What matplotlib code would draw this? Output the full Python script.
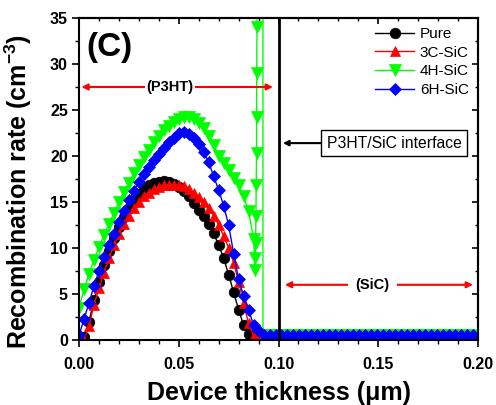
import numpy as np
import matplotlib
matplotlib.use("Agg")
import matplotlib.pyplot as plt

plt.rcParams['font.family'] = ['Liberation Sans', 'DejaVu Sans']
plt.rcParams['mathtext.fontset'] = 'custom'
plt.rcParams['mathtext.rm'] = 'Liberation Sans:bold'
plt.rcParams['mathtext.bf'] = 'Liberation Sans:bold'

# depth grid inside the P3HT layer (um)
depth = np.arange(0, 0.0899, 0.0025)

pure = [0.0, 0.3, 2.0, 4.3, 6.3, 8.1, 9.7, 11.1, 12.3, 13.4, 14.4, 15.2,
        15.9, 16.4, 16.8, 17.1, 17.2, 17.3, 17.2, 17.0, 16.6, 16.2, 15.6, 14.9,
        14.1, 13.5, 12.6, 11.6, 10.3, 8.9, 7.1, 5.2, 3.3, 1.6, 0.6, 0.3]
sic_3c = [0.0, 0.0, 1.5, 3.8, 5.6, 7.3, 8.9, 10.3, 11.5, 12.6, 13.5, 14.3,
          15.0, 15.6, 16.0, 16.4, 16.6, 16.8, 16.9, 16.9, 16.8, 16.7, 16.4, 16.0,
          15.5, 15.0, 14.3, 13.5, 12.5, 11.3, 10.0, 8.4, 6.3, 4.0, 1.8, 0.4]
sic_4h = [3.5, 5.5, 7.2, 8.7, 10.1, 11.4, 12.6, 13.8, 15.0, 16.1, 17.1, 18.1,
          19.0, 19.9, 20.7, 21.5, 22.2, 22.8, 23.3, 23.7, 24.0, 24.2, 24.2, 24.0,
          23.6, 23.0, 22.2, 21.2, 20.0, 19.2, 18.5, 17.6, 16.8, 15.6, 14.0, 11.0]
sic_6h = [0.5, 2.3, 4.0, 5.9, 7.5, 9.0, 10.3, 11.5, 12.8, 14.0, 15.2, 16.2,
          17.2, 18.0, 18.8, 19.6, 20.2, 20.9, 21.5, 22.0, 22.5, 22.6, 22.4, 22.0,
          21.3, 20.4, 19.3, 17.8, 16.3, 14.6, 12.5, 9.4, 6.6, 4.8, 3.3, 1.6]

# points just before the interface (4H-SiC blows up there)
tail_x_pure = [0.09]
tail_pure = [0.3]
tail_x_3c = [0.09]
tail_3c = [0.3]
tail_x_6h = [0.09]
tail_6h = [1.0]
tail_x_4h = [0.088, 0.0882, 0.0885, 0.0887, 0.0888, 0.089, 0.089, 0.0891,
             0.0892, 0.0893, 0.0922, 0.0922]
tail_4h = [8.9, 7.6, 10.5, 13.5, 16.8, 20.3, 24.2, 29.0, 34.0, 45.0, 45.0, 0.5]

# SiC layer
sic_x = np.arange(0.0925, 0.2001, 0.003)
sic_rate = 0.5

series = [
    ("Pure", pure, tail_x_pure, tail_pure, 'black', 'o', 7.6),
    ("3C-SiC", sic_3c, tail_x_3c, tail_3c, 'red', '^', 7.6),
    ("4H-SiC", sic_4h, tail_x_4h, tail_4h, '#00ff00', 'v', 8.6),
    ("6H-SiC", sic_6h, tail_x_6h, tail_6h, 'blue', 'D', 6.0),
]

fig = plt.figure(figsize=(4.96, 4.05), dpi=100)
ax = fig.add_axes([0.1593, 0.1605, 0.8044, 0.7951])

for name, vals, tx, ty, col, mk, ms in series:
    x = np.concatenate([depth, tx, sic_x])
    y = np.concatenate([vals, ty, np.full(len(sic_x), sic_rate)])
    ax.plot(x, y, color=col, marker=mk, markersize=ms, lw=1,
            markeredgewidth=0.5, label=name)

ax.set_xlim(0, 0.2)
ax.set_ylim(0, 35)
ax.set_xticks([0, 0.05, 0.10, 0.15, 0.20])
ax.set_xticklabels(['0.00', '0.05', '0.10', '0.15', '0.20'])
ax.set_xticks(np.arange(0, 0.2001, 0.01), minor=True)
ax.set_yticks(np.arange(0, 36, 5))
ax.set_yticks(np.arange(0, 36, 2.5), minor=True)
ax.tick_params(which='major', direction='out', length=5, width=1.2)
ax.tick_params(which='minor', direction='out', length=3, width=1.0)
ax.tick_params(axis='x', pad=7)
ax.tick_params(axis='y', pad=3)
for lab in ax.get_xticklabels() + ax.get_yticklabels():
    lab.set_fontweight('bold')
    lab.set_fontsize(11.5)

# mirrored axes with inward ticks
top = ax.secondary_xaxis('top')
top.set_xticks([0, 0.05, 0.10, 0.15, 0.20])
top.set_xticks(np.arange(0, 0.2001, 0.01), minor=True)
top.tick_params(which='major', direction='in', length=4, width=1.2, labeltop=False)
top.tick_params(which='minor', direction='in', length=2.5, width=1.0)
right = ax.secondary_yaxis('right')
right.set_yticks(np.arange(0, 36, 5))
right.set_yticks(np.arange(0, 36, 2.5), minor=True)
right.tick_params(which='major', direction='in', length=4, width=1.2, labelright=False)
right.tick_params(which='minor', direction='in', length=2.5, width=1.0)

for sp in list(ax.spines.values()) + [top.spines['top'], right.spines['right']]:
    sp.set_linewidth(1.5)

ax.set_xlabel('Device thickness (μm)', fontsize=18, fontweight='bold', labelpad=6.5)
ax.set_ylabel('Recombination rate (cm$^{-3}$)', fontsize=18, fontweight='bold')
ax.yaxis.set_label_coords(-0.112, 0.46)

# interface line
ax.axvline(0.1, color='black', lw=2)

ax.text(0.0035, 31.8, '(C)', fontsize=24, fontweight='bold', va='center')

# layer arrows
ax.annotate('', xy=(0.0012, 27.5), xytext=(0.0972, 27.5),
            arrowprops=dict(arrowstyle='<|-|>', color='red', lw=1.5,
                            mutation_scale=9, shrinkA=0, shrinkB=0))
ax.text(0.0455, 27.5, '(P3HT)', fontsize=10.5, fontweight='bold', ha='center',
        va='center', bbox=dict(boxstyle='square,pad=0.1', fc='white', ec='none'))
ax.annotate('', xy=(0.1032, 6.0), xytext=(0.1975, 6.0),
            arrowprops=dict(arrowstyle='<|-|>', color='red', lw=1.5,
                            mutation_scale=9, shrinkA=0, shrinkB=0))
ax.text(0.147, 6.0, '(SiC)', fontsize=10.5, fontweight='bold', ha='center',
        va='center', bbox=dict(boxstyle='square,pad=0.5', fc='white', ec='none'))

ax.annotate('P3HT/SiC interface', xy=(0.1022, 21.4), xytext=(0.1243, 21.4),
            fontsize=11.3, ha='left', va='center',
            bbox=dict(boxstyle='square,pad=0.35', fc='white', ec='black', lw=1),
            arrowprops=dict(arrowstyle='-|>', color='black', lw=1.5,
                            mutation_scale=8, shrinkA=0, shrinkB=0))

ax.legend(loc='upper right', frameon=False, fontsize=11, handlelength=2.6,
          handletextpad=0.35, labelspacing=0.3, borderaxespad=0.2,
          bbox_to_anchor=(1.0, 1.0))

fig.savefig('out.png', dpi=100)
